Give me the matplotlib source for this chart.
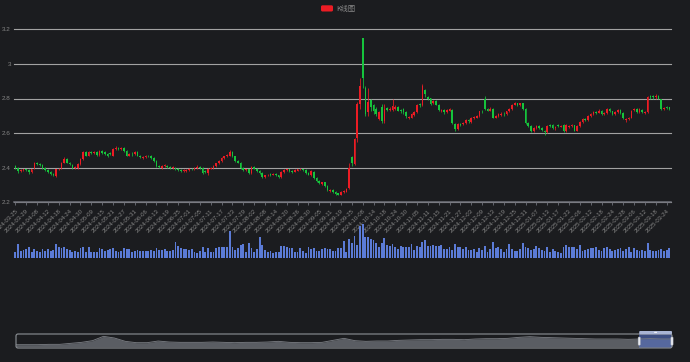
import numpy as np
import pandas as pd
import matplotlib
matplotlib.use("Agg")
import matplotlib.pyplot as plt
from matplotlib.patches import FancyBboxPatch

plt.rcParams['font.family'] = ['Liberation Sans', 'DejaVu Sans']

# trading days in the zoomed window (exchange holidays removed)
holidays = ['2024-04-04', '2024-04-05', '2024-05-01', '2024-05-02', '2024-05-03',
            '2024-06-10', '2024-09-16', '2024-09-17', '2024-10-01', '2024-10-02',
            '2024-10-03', '2024-10-04', '2024-10-07', '2025-01-01', '2025-01-28',
            '2025-01-29', '2025-01-30', '2025-01-31', '2025-02-03', '2025-02-04']
days = pd.bdate_range('2024-03-25', '2025-03-25')
days = days[~days.isin(pd.to_datetime(holidays))]
dates = days.strftime('%Y-%m-%d').tolist()

opens = [2.41, 2.40, 2.38, 2.385, 2.39, 2.385, 2.375, 2.40, 2.43, 2.42,
         2.415, 2.40, 2.385, 2.375, 2.365, 2.35, 2.39, 2.40, 2.43, 2.45,
         2.43, 2.415, 2.40, 2.40, 2.42, 2.45, 2.49, 2.47, 2.49, 2.485,
         2.49, 2.475, 2.495, 2.49, 2.48, 2.485, 2.47, 2.51, 2.515, 2.51,
         2.515, 2.495, 2.47, 2.482, 2.48, 2.49, 2.47, 2.455, 2.46, 2.47,
         2.47, 2.455, 2.44, 2.41, 2.40, 2.41, 2.41, 2.405, 2.40, 2.40,
         2.395, 2.385, 2.38, 2.38, 2.385, 2.395, 2.39, 2.40, 2.405, 2.40,
         2.38, 2.37, 2.395, 2.40, 2.41, 2.425, 2.44, 2.455, 2.465, 2.47,
         2.49, 2.465, 2.44, 2.43, 2.40, 2.385, 2.39, 2.37, 2.405, 2.395,
         2.38, 2.37, 2.345, 2.355, 2.365, 2.358, 2.365, 2.355, 2.345, 2.375,
         2.385, 2.392, 2.382, 2.378, 2.383, 2.39, 2.392, 2.385, 2.37, 2.355,
         2.375, 2.34, 2.325, 2.308, 2.315, 2.295, 2.268, 2.27, 2.26, 2.252,
         2.245, 2.258, 2.262, 2.28, 2.46, 2.42, 2.57, 2.77, 3.15, 2.86,
         2.72, 2.79, 2.76, 2.74, 2.68, 2.75, 2.67, 2.745, 2.735, 2.735,
         2.74, 2.75, 2.735, 2.738, 2.72, 2.685, 2.69, 2.705, 2.72, 2.77,
         2.76, 2.85, 2.81, 2.80, 2.775, 2.785, 2.765, 2.728, 2.735, 2.72,
         2.73, 2.735, 2.655, 2.625, 2.655, 2.65, 2.66, 2.675, 2.665, 2.688,
         2.69, 2.70, 2.73, 2.80, 2.74, 2.73, 2.74, 2.69, 2.70, 2.705,
         2.712, 2.71, 2.725, 2.74, 2.765, 2.772, 2.76, 2.772, 2.74, 2.66,
         2.64, 2.61, 2.63, 2.64, 2.63, 2.615, 2.605, 2.645, 2.645, 2.628,
         2.645, 2.638, 2.645, 2.61, 2.635, 2.64, 2.645, 2.615, 2.64, 2.665,
         2.68, 2.675, 2.70, 2.71, 2.722, 2.718, 2.73, 2.71, 2.715, 2.74,
         2.725, 2.71, 2.72, 2.735, 2.715, 2.675, 2.68, 2.69, 2.735, 2.74,
         2.72, 2.735, 2.718, 2.72, 2.815, 2.815, 2.808, 2.812, 2.80, 2.74,
         2.748, 2.748]

closes = [2.40, 2.38, 2.385, 2.39, 2.385, 2.375, 2.39, 2.43, 2.42, 2.415,
          2.40, 2.385, 2.375, 2.365, 2.355, 2.39, 2.395, 2.43, 2.45, 2.43,
          2.42, 2.40, 2.405, 2.42, 2.45, 2.49, 2.47, 2.49, 2.485, 2.49,
          2.475, 2.495, 2.485, 2.48, 2.465, 2.48, 2.51, 2.515, 2.51, 2.515,
          2.495, 2.47, 2.48, 2.478, 2.49, 2.47, 2.46, 2.46, 2.47, 2.465,
          2.455, 2.44, 2.41, 2.405, 2.41, 2.412, 2.405, 2.40, 2.402, 2.39,
          2.385, 2.38, 2.385, 2.388, 2.395, 2.39, 2.40, 2.405, 2.40, 2.37,
          2.375, 2.395, 2.40, 2.41, 2.425, 2.44, 2.455, 2.465, 2.475, 2.49,
          2.465, 2.44, 2.43, 2.40, 2.385, 2.39, 2.37, 2.405, 2.395, 2.38,
          2.37, 2.345, 2.355, 2.36, 2.358, 2.365, 2.355, 2.345, 2.375, 2.385,
          2.39, 2.38, 2.378, 2.385, 2.392, 2.394, 2.385, 2.37, 2.36, 2.38,
          2.34, 2.325, 2.31, 2.315, 2.295, 2.27, 2.272, 2.26, 2.25, 2.245,
          2.26, 2.265, 2.275, 2.40, 2.425, 2.565, 2.77, 2.87, 2.92, 2.71,
          2.78, 2.75, 2.73, 2.71, 2.72, 2.67, 2.74, 2.735, 2.742, 2.755,
          2.75, 2.73, 2.725, 2.722, 2.70, 2.695, 2.71, 2.72, 2.76, 2.76,
          2.87, 2.825, 2.80, 2.77, 2.785, 2.765, 2.735, 2.735, 2.72, 2.735,
          2.738, 2.66, 2.625, 2.655, 2.648, 2.66, 2.675, 2.668, 2.69, 2.695,
          2.70, 2.725, 2.725, 2.74, 2.73, 2.742, 2.69, 2.70, 2.71, 2.712,
          2.708, 2.725, 2.74, 2.765, 2.772, 2.762, 2.772, 2.74, 2.66, 2.64,
          2.61, 2.63, 2.64, 2.63, 2.62, 2.605, 2.64, 2.642, 2.63, 2.635,
          2.642, 2.642, 2.61, 2.645, 2.64, 2.645, 2.615, 2.64, 2.665, 2.68,
          2.675, 2.70, 2.71, 2.72, 2.718, 2.73, 2.71, 2.715, 2.74, 2.725,
          2.71, 2.72, 2.735, 2.715, 2.685, 2.68, 2.69, 2.73, 2.74, 2.72,
          2.74, 2.72, 2.722, 2.81, 2.81, 2.81, 2.815, 2.80, 2.74, 2.745,
          2.745, 2.74]

lows = [2.395, 2.37, 2.375, 2.38, 2.38, 2.365, 2.37, 2.395, 2.415, 2.41,
        2.395, 2.38, 2.37, 2.36, 2.35, 2.345, 2.385, 2.395, 2.425, 2.425,
        2.415, 2.395, 2.395, 2.395, 2.415, 2.445, 2.465, 2.465, 2.48, 2.48,
        2.47, 2.47, 2.48, 2.475, 2.46, 2.475, 2.465, 2.505, 2.505, 2.505,
        2.49, 2.465, 2.465, 2.47, 2.475, 2.465, 2.455, 2.45, 2.455, 2.46,
        2.45, 2.435, 2.405, 2.40, 2.395, 2.405, 2.40, 2.395, 2.395, 2.385,
        2.38, 2.375, 2.375, 2.375, 2.38, 2.385, 2.385, 2.395, 2.395, 2.365,
        2.37, 2.36, 2.39, 2.395, 2.405, 2.42, 2.435, 2.45, 2.46, 2.465,
        2.46, 2.435, 2.425, 2.395, 2.38, 2.38, 2.365, 2.365, 2.39, 2.375,
        2.365, 2.34, 2.34, 2.35, 2.35, 2.355, 2.35, 2.34, 2.34, 2.37,
        2.38, 2.375, 2.37, 2.375, 2.38, 2.385, 2.38, 2.365, 2.355, 2.35,
        2.335, 2.32, 2.305, 2.30, 2.29, 2.265, 2.26, 2.255, 2.245, 2.24,
        2.24, 2.255, 2.26, 2.275, 2.41, 2.415, 2.55, 2.74, 2.86, 2.70,
        2.70, 2.73, 2.71, 2.70, 2.675, 2.66, 2.66, 2.725, 2.73, 2.73,
        2.735, 2.725, 2.715, 2.71, 2.69, 2.68, 2.685, 2.70, 2.715, 2.75,
        2.755, 2.81, 2.79, 2.765, 2.77, 2.76, 2.73, 2.72, 2.71, 2.715,
        2.725, 2.655, 2.615, 2.62, 2.64, 2.645, 2.655, 2.66, 2.66, 2.68,
        2.685, 2.695, 2.715, 2.735, 2.725, 2.725, 2.685, 2.685, 2.695, 2.70,
        2.70, 2.705, 2.72, 2.735, 2.76, 2.755, 2.755, 2.735, 2.655, 2.635,
        2.605, 2.605, 2.625, 2.625, 2.615, 2.59, 2.60, 2.635, 2.625, 2.62,
        2.635, 2.635, 2.605, 2.605, 2.63, 2.635, 2.61, 2.61, 2.635, 2.66,
        2.67, 2.67, 2.695, 2.705, 2.71, 2.715, 2.705, 2.705, 2.71, 2.72,
        2.705, 2.705, 2.715, 2.71, 2.68, 2.665, 2.675, 2.685, 2.73, 2.715,
        2.715, 2.715, 2.71, 2.715, 2.80, 2.80, 2.80, 2.795, 2.735, 2.735,
        2.74, 2.735]

highs = [2.415, 2.405, 2.39, 2.395, 2.395, 2.39, 2.395, 2.435, 2.435, 2.425,
         2.42, 2.405, 2.39, 2.38, 2.37, 2.395, 2.40, 2.435, 2.46, 2.455,
         2.435, 2.42, 2.41, 2.425, 2.455, 2.495, 2.495, 2.495, 2.495, 2.495,
         2.495, 2.50, 2.50, 2.495, 2.485, 2.49, 2.515, 2.525, 2.52, 2.52,
         2.52, 2.50, 2.485, 2.49, 2.495, 2.495, 2.475, 2.465, 2.475, 2.475,
         2.475, 2.46, 2.445, 2.415, 2.415, 2.42, 2.415, 2.41, 2.41, 2.405,
         2.40, 2.39, 2.39, 2.39, 2.40, 2.40, 2.405, 2.415, 2.41, 2.405,
         2.385, 2.40, 2.405, 2.415, 2.43, 2.445, 2.46, 2.47, 2.48, 2.50,
         2.495, 2.47, 2.445, 2.435, 2.405, 2.395, 2.395, 2.41, 2.41, 2.40,
         2.385, 2.375, 2.36, 2.365, 2.37, 2.37, 2.37, 2.36, 2.38, 2.39,
         2.395, 2.395, 2.385, 2.39, 2.395, 2.40, 2.395, 2.39, 2.375, 2.385,
         2.38, 2.345, 2.33, 2.32, 2.32, 2.30, 2.275, 2.275, 2.265, 2.255,
         2.265, 2.27, 2.28, 2.43, 2.47, 2.57, 2.78, 2.92, 3.15, 2.87,
         2.86, 2.80, 2.77, 2.75, 2.73, 2.77, 2.77, 2.75, 2.75, 2.80,
         2.76, 2.755, 2.74, 2.745, 2.725, 2.70, 2.715, 2.73, 2.77, 2.775,
         2.885, 2.855, 2.815, 2.805, 2.79, 2.79, 2.77, 2.74, 2.74, 2.74,
         2.745, 2.74, 2.66, 2.66, 2.66, 2.665, 2.68, 2.68, 2.695, 2.70,
         2.705, 2.73, 2.735, 2.815, 2.745, 2.75, 2.745, 2.705, 2.715, 2.72,
         2.72, 2.73, 2.745, 2.77, 2.78, 2.775, 2.775, 2.776, 2.745, 2.665,
         2.645, 2.635, 2.645, 2.645, 2.635, 2.62, 2.645, 2.65, 2.65, 2.64,
         2.65, 2.648, 2.65, 2.65, 2.645, 2.65, 2.648, 2.645, 2.67, 2.685,
         2.685, 2.705, 2.715, 2.725, 2.73, 2.74, 2.735, 2.72, 2.745, 2.745,
         2.73, 2.725, 2.74, 2.74, 2.72, 2.685, 2.695, 2.735, 2.745, 2.745,
         2.745, 2.74, 2.73, 2.815, 2.82, 2.82, 2.825, 2.82, 2.80, 2.75,
         2.755, 2.75]

# volume, 10k lots
volumes = [6.7, 14.3, 7.7, 8.3, 9, 11.7, 6.7, 9, 7.7, 6.7,
           9.3, 7.3, 9, 7.3, 8.3, 14.3, 11, 10.7, 11.7, 9,
           8.3, 6.7, 7.3, 6.7, 10, 11.7, 6.7, 11, 6.7, 6.3,
           6.7, 10, 9, 7.3, 8.3, 9, 10, 7.7, 6.7, 7.3,
           10, 9.7, 9, 6.7, 7.3, 8.3, 7.3, 7.3, 7.7, 7.7,
           8.3, 7.3, 10, 8.3, 8.3, 9.3, 7.3, 7.3, 8.3, 16,
           12.3, 10, 9, 9, 8.3, 9, 6.7, 5.7, 7.7, 11.7,
           6.7, 10, 6.7, 6.7, 10, 11, 11, 11, 11.7, 27.7,
           11, 8.3, 10.7, 13.3, 14.3, 6.7, 15.7, 10, 6.7, 9,
           21.7, 13.3, 8.3, 6.7, 7.3, 5, 6.3, 6.7, 12.3, 12.3,
           11, 10, 10, 6, 6, 10, 7.3, 5.7, 11.7, 9,
           10, 7.7, 7.7, 9, 10, 9, 9.7, 7.7, 7.7, 10,
           10, 17.7, 6.7, 19, 15.7, 22.3, 13.3, 32.3, 34.3, 21.7,
           21.7, 19.3, 18.3, 15, 11.7, 15, 20, 13.3, 12.3, 14.3,
           11.7, 9, 12.3, 11, 11, 11, 14.3, 8.3, 12.3, 11,
           16.7, 18.3, 12.3, 12.3, 13.3, 12.3, 12.3, 13.3, 9, 9,
           11, 8.3, 14.3, 11,
           11, 9, 11.7, 8.3, 8.3, 9, 6, 10, 8.3, 12.3,
           6.7, 9, 16.7, 10, 11, 9, 6.7, 9, 14.3,
           9.3, 7.7, 7.7, 9, 15, 11.7, 10, 8.3, 9, 12.3,
           10, 8.3, 7.3, 11, 6.7, 9, 7.3, 6.7, 5.7, 11,
           13.3, 11, 11.7, 11.7, 9.7, 13.3, 7.7, 8.3, 9, 10,
           10, 11, 8.3, 7.7, 10, 11, 9, 7.3, 8.3,
           9, 10, 7.3, 9, 11.7, 6.7, 10, 8.3, 7.3, 8.3,
           7.7, 15.7, 8.3, 7.7, 7.3, 8.3, 9, 7.3, 8.3, 10]

# coarse full-history close used as the slider's data shadow
overview = [1.06, 1.06, 1.06, 1.14, 1.14, 1.38, 1.62, 2.02, 3.06, 2.66,
            1.86, 1.54, 1.54, 1.94, 1.70, 1.62, 1.62, 1.62, 1.70, 1.62,
            1.54, 1.62, 1.62, 1.70, 1.86, 1.62, 1.54, 1.54, 1.62, 2.10,
            2.58, 2.02, 1.86, 1.94, 1.94, 2.10, 2.18, 2.26, 2.26, 2.34,
            2.34, 2.26, 2.42, 2.50, 2.50, 2.58, 2.82, 2.98, 2.82, 2.74,
            2.66, 2.58, 2.50, 2.42, 2.42, 2.42, 2.34, 2.42, 2.50, 2.42, 2.42]
zoom_start, zoom_end = 95, 100   # percent of history shown

assert len(dates) == len(closes) == len(volumes)

BG = '#1b1c1f'
UP, DOWN = '#ec1c24', '#16c43c'
VOL = '#5b7bd6'
W, H = 690, 362

fig = plt.figure(figsize=(W / 100, H / 100), dpi=100, facecolor=BG)


def add_ax(x0, y0, x1, y1, **kw):
    # place an axes using pixel coords measured from the top-left
    a = fig.add_axes([x0 / W, 1 - y1 / H, (x1 - x0) / W, (y1 - y0) / H], **kw)
    a.set_facecolor('none')
    return a


n = len(dates)
x = np.arange(n)
o, c, lo, hi = (np.array(v) for v in (opens, closes, lows, highs))
col = np.where(c >= o, UP, DOWN)

# price panel
ax = add_ax(14, 29.3, 670.7, 202.3)
ax.vlines(x, lo, hi, colors=col, lw=0.55, zorder=3)
ax.bar(x, np.maximum(np.abs(c - o), 0.004), bottom=np.minimum(o, c),
       width=0.62, color=col, lw=0, zorder=3)
ax.set_xlim(-0.5, n - 0.5)
ax.set_ylim(2.2, 3.2)
yt = np.round(np.arange(2.2, 3.21, 0.2), 1)
for v in yt:
    ax.axhline(v, color='#a2a2a2', lw=0.8, clip_on=False, zorder=1)
ax.set_yticks(yt)
ax.set_yticklabels([f'{v:g}' for v in yt])
ax.set_xticks(x[::4])
ax.set_xticklabels(dates[::4], rotation=45, ha='right', rotation_mode='anchor')
ax.tick_params(axis='x', length=2, width=0.6, color='#6e7079', pad=2.5,
               labelsize=4.3, labelcolor='#858585')
ax.tick_params(axis='y', length=0, pad=2.2, labelsize=4.6, labelcolor='#858585')
for s in ['top', 'right', 'left']:
    ax.spines[s].set_visible(False)
ax.spines['bottom'].set_color('#6e7079')
ax.spines['bottom'].set_linewidth(1.1)
ax.spines['bottom'].set_zorder(2)

# volume panel
vax = add_ax(14, 221.8, 670.7, 258.3)
vax.bar(x, volumes, width=0.68, color=VOL, lw=0)
vax.set_xlim(-0.5, n - 0.5)
vax.set_ylim(0, 36.5)
vax.axis('off')

# zoom slider with data shadow
sax = add_ax(16, 334, 672, 348)
k = np.arange(len(overview))
sax.fill_between(k, overview, 0.6, color='#5a5d63', lw=0)
sax.plot(k, overview, color='#7c7f85', lw=0.6)
sax.set_xlim(0, len(overview) - 1)
sax.set_ylim(0.26, 3.62)
s0 = (len(overview) - 1) * zoom_start / 100
s1 = (len(overview) - 1) * zoom_end / 100
sax.axvspan(s0, s1, color='#5470c6', alpha=0.6, lw=0)
sax.axis('off')

# overlay in pixel coords for the legend and slider chrome
ov = fig.add_axes([0, 0, 1, 1], zorder=5)
ov.set_xlim(0, W)
ov.set_ylim(H, 0)
ov.axis('off')
ov.add_patch(FancyBboxPatch((16, 334), 656, 14, boxstyle='round,pad=0,rounding_size=2',
                            fc='none', ec='#8e9297', lw=0.8))
hx0 = 16 + 656 * zoom_start / 100
hx1 = 16 + 656 * zoom_end / 100
ov.add_patch(FancyBboxPatch((hx0, 331), hx1 - hx0, 3.3, boxstyle='round,pad=0,rounding_size=1',
                            fc='#a9b4d4', ec='none'))
ov.add_patch(FancyBboxPatch(((hx0 + hx1) / 2 - 1.5, 331.8), 3, 1.2,
                            boxstyle='round,pad=0,rounding_size=0.5', fc='#eef0f6', ec='none'))
for hx in (hx0, hx1):
    ov.add_patch(FancyBboxPatch((hx - 1.1, 337), 2.2, 8.2, boxstyle='round,pad=0,rounding_size=0.8',
                                fc='#e6e8ee', ec='#aab0bc', lw=0.3))

ov.add_patch(FancyBboxPatch((321, 5.3), 12, 6.2, boxstyle='round,pad=0,rounding_size=1.5',
                            fc=UP, ec='none'))
ov.text(336, 8.5, 'K线图', fontsize=5.2, color='#8a8a8a', va='center', ha='left',
        family=['Noto Sans CJK SC', 'DejaVu Sans'])

fig.savefig('out.png', dpi=100, facecolor=BG)
